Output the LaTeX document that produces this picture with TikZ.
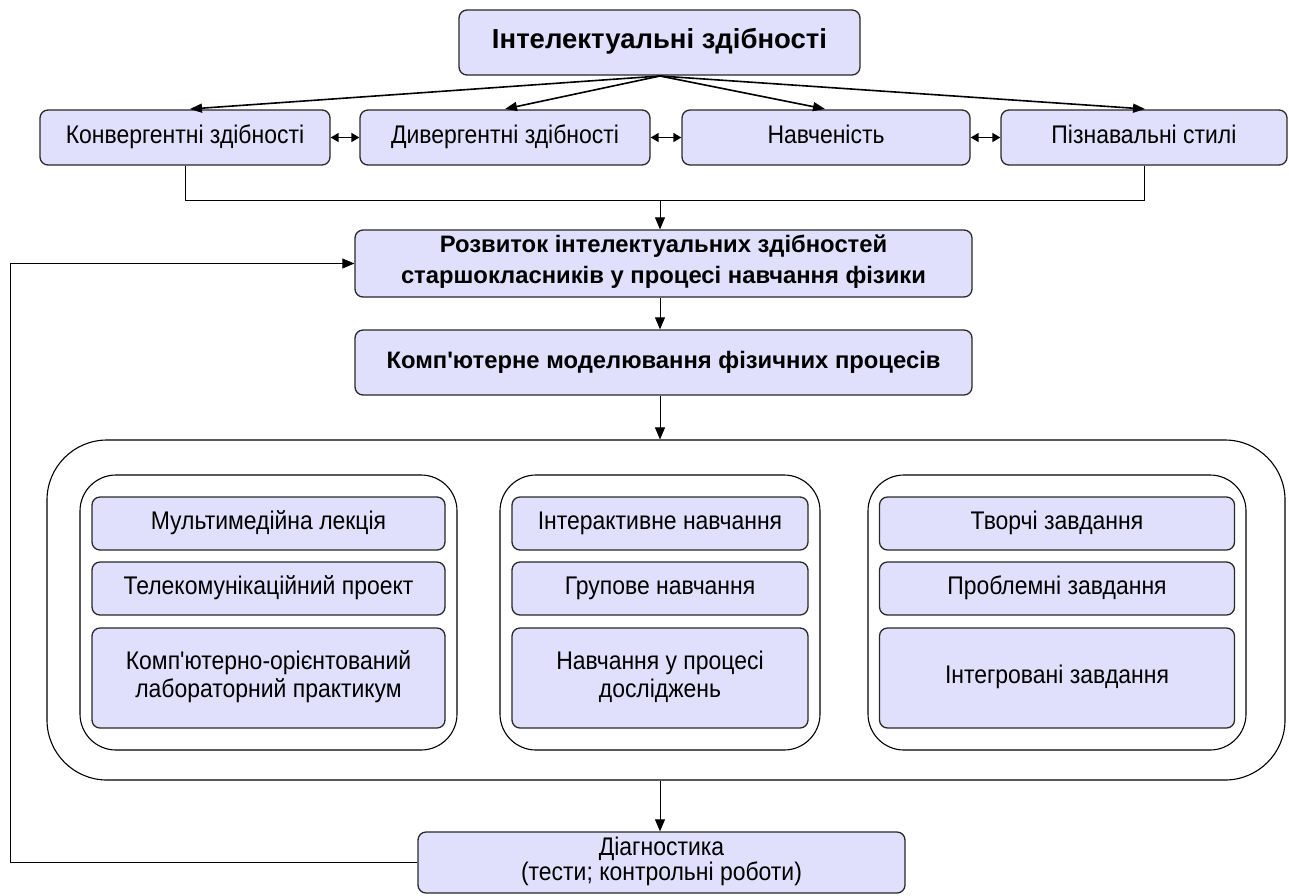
\documentclass[tikz,border=0pt]{standalone}
\usepackage{fontspec}
\setmainfont{Liberation Sans}[Ligatures=TeXOff]
\newfontfamily\regfont{Liberation Sans}[Ligatures=TeXOff, FakeStretch=0.9]
\usetikzlibrary{arrows.meta}
\definecolor{boxfill}{RGB}{224,224,252}
\definecolor{edge}{RGB}{40,40,40}
\tikzset{
  box/.style={draw=edge, fill=boxfill, line width=1.3pt, rounded corners=8pt, inner sep=0pt, align=center,
    font=\regfont\fontsize{25.5}{28}\selectfont, execute at begin node=\strut, execute at end node=\strut},
  boldbox/.style={box, font=\fontsize{23.8}{31}\selectfont\bfseries},
  titlebox/.style={box, font=\fontsize{27.5}{32}\selectfont\bfseries},
  group/.style={draw=black, line width=1.1pt, rounded corners=36pt, inner sep=0pt},
  bigframe/.style={draw=black, line width=1.1pt, rounded corners=60pt, inner sep=0pt},
  conn/.style={draw=black, line width=0.8pt},
  arr/.style={conn, -{Triangle[length=12pt,width=10pt]}},
  fan/.style={draw=black, line width=1.6pt, -{Triangle[length=12pt,width=9pt]}},
  dbl/.style={draw=black, line width=1.6pt, {Triangle[length=8pt,width=9pt]}-{Triangle[length=8pt,width=9pt]}}
}
\begin{document}
\begin{tikzpicture}[x=1pt,y=-1pt]
\useasboundingbox (0,0) rectangle (1289,895);
% top
\node[titlebox, minimum width=401pt, minimum height=65pt] (top) at (659.5,42.5) {Інтелектуальні здібності};
% row
\node[box, minimum width=290pt, minimum height=55pt] (konv) at (185,137.5) {Конвергентні здібності};
\node[box, minimum width=290pt, minimum height=55pt] (div) at (505,137.5) {Дивергентні здібності};
\node[box, minimum width=288pt, minimum height=55pt] (nav) at (826,137.5) {Навченість};
\node[box, minimum width=286pt, minimum height=55pt] (piz) at (1144,137.5) {Пізнавальні стилі};
% fan arrows
\coordinate (fo) at (660,76);
\draw[fan] (fo) -- (190,109);
\draw[fan] (fo) -- (505,109);
\draw[fan] (fo) -- (825,109);
\draw[fan] (fo) -- (1145,109);
% double arrows
\draw[dbl] (konv.east) -- (div.west);
\draw[dbl] (div.east) -- (nav.west);
\draw[dbl] (nav.east) -- (piz.west);
% middle
\node[boldbox, minimum width=617pt, minimum height=67pt] (rozv) at (663.5,263.5) {Розвиток інтелектуальних здібностей\\старшокласників у процесі навчання фізики};
\node[boldbox, minimum width=617pt, minimum height=65pt] (komp) at (663.5,362.5) {Комп'ютерне моделювання фізичних процесів};
\coordinate (j) at (660,200);
\draw[conn] (konv.south) -- (185,200) -- (1144,200) -- (piz.south);
\draw[arr] (j) -- (j |- rozv.north);
\draw[arr] (rozv.south -| j) -- (komp.north -| j);
% big frame
\node[bigframe, minimum width=1238pt, minimum height=340pt] (frame) at (666,610) {};
\draw[arr] (komp.south -| j) -- (frame.north -| j);
% groups
\node[group, minimum width=377pt, minimum height=275pt] (g1) at (268.5,612.5) {};
\node[group, minimum width=320pt, minimum height=275pt] (g2) at (660,612.5) {};
\node[group, minimum width=378pt, minimum height=275pt] (g3) at (1057,612.5) {};
% items
\node[box, minimum width=353pt, minimum height=53pt] (a1) at (268.5,523.5) {Мультимедійна лекція};
\node[box, minimum width=353pt, minimum height=53pt] (a2) at (268.5,588.5) {Телекомунікаційний проект};
\node[box, minimum width=353pt, minimum height=100pt] (a3) at (268.5,678) {Комп'ютерно-орієнтований\\лабораторний практикум};
\node[box, minimum width=296pt, minimum height=53pt] (b1) at (660,523.5) {Інтерактивне навчання};
\node[box, minimum width=296pt, minimum height=53pt] (b2) at (660,588.5) {Групове навчання};
\node[box, minimum width=296pt, minimum height=100pt] (b3) at (660,678) {Навчання у процесі\\досліджень};
\node[box, minimum width=355pt, minimum height=53pt] (c1) at (1057,523.5) {Творчі завдання};
\node[box, minimum width=355pt, minimum height=53pt] (c2) at (1057,588.5) {Проблемні завдання};
\node[box, minimum width=355pt, minimum height=100pt] (c3) at (1057,678) {Інтегровані завдання};
% diagnostics
\node[box, minimum width=487pt, minimum height=61pt, font=\regfont\fontsize{25.5}{25}\selectfont] (diag) at (661.5,862.5) {Діагностика\\(тести; контрольні роботи)};
\draw[arr] (frame.south -| j) -- (diag.north -| j);
% feedback
\draw[arr] (diag.west) -- (10,862.5) -- (10,263.5) -- (rozv.west);
\end{tikzpicture}
\end{document}
